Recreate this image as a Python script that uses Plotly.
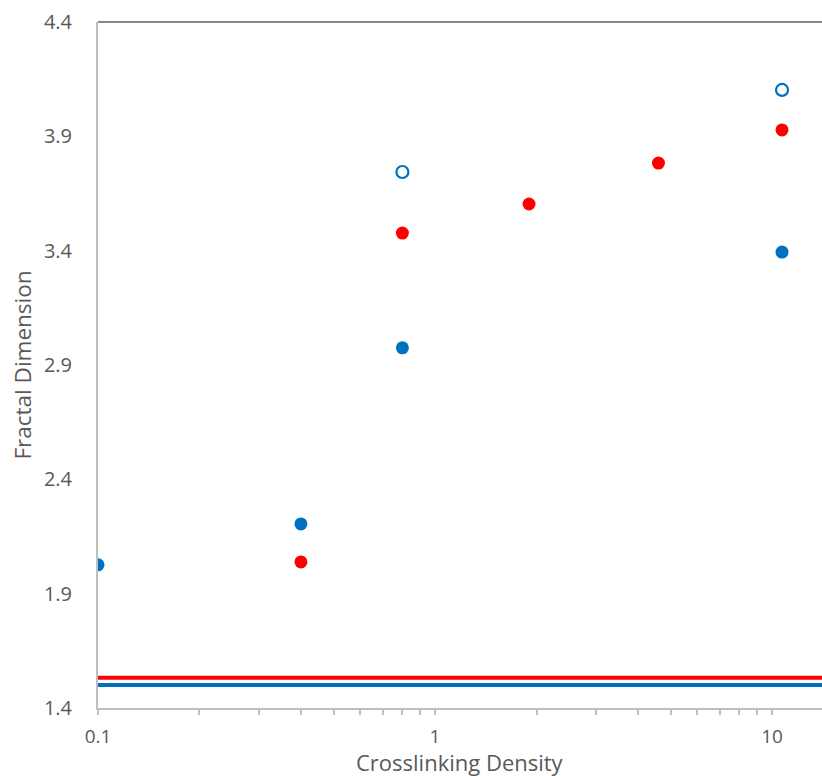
import plotly.graph_objects as go

# Crosslinking density vs fractal dimension
blue_x = [0.1, 0.4, 0.8, 10.7]
blue_y = [2.026, 2.205, 2.975, 3.394]
blue_open_x = [0.8, 10.7]
blue_open_y = [3.744, 4.103]
red_x = [0.4, 0.8, 1.9, 4.6, 10.7]
red_y = [2.039, 3.477, 3.604, 3.783, 3.928]
# horizontal reference levels
red_level = 1.532
blue_level = 1.501

x_ticks = [0.1, 1, 10]
x_tick_text = ["0.1", "1", "10"]
x_minor = [0.2, 0.3, 0.4, 0.5, 0.6, 0.7, 0.8, 0.9,
           2, 3, 4, 5, 6, 7, 8, 9]
y_ticks = [1.4, 1.9, 2.4, 2.9, 3.4, 3.9, 4.4]
y_tick_text = ["1.4", "1.9", "2.4", "2.9", "3.4", "3.9", "4.4"]

BLUE = "#0070C0"
RED = "#FF0000"
FONT = "Open Sans"
TXT = "#595959"

x_lo, x_hi = 0.1, 14.06

fig = go.Figure()
fig.add_trace(go.Scatter(x=[x_lo, x_hi], y=[red_level, red_level], mode="lines",
                         line=dict(color=RED, width=4), hoverinfo="skip"))
fig.add_trace(go.Scatter(x=[x_lo, x_hi], y=[blue_level, blue_level], mode="lines",
                         line=dict(color=BLUE, width=4), hoverinfo="skip"))
fig.add_trace(go.Scatter(x=blue_x, y=blue_y, mode="markers",
                         marker=dict(color=BLUE, size=13)))
fig.add_trace(go.Scatter(x=blue_open_x, y=blue_open_y, mode="markers",
                         marker=dict(color="white", size=12, line=dict(color=BLUE, width=2.2))))
fig.add_trace(go.Scatter(x=red_x, y=red_y, mode="markers",
                         marker=dict(color=RED, size=13)))

fig.update_layout(
    width=822, height=776,
    margin=dict(l=98, r=0, t=22, b=68),
    paper_bgcolor="white", plot_bgcolor="white",
    showlegend=False,
    font=dict(family=FONT, color=TXT, size=18),
    shapes=[dict(type="line", xref="paper", yref="paper", x0=0, x1=1, y0=1, y1=1,
                 line=dict(color="#878787", width=2))],
    annotations=[dict(text="Crosslinking Density", xref="paper", yref="paper",
                      x=0.5, y=0, xanchor="center", yanchor="bottom",
                      yshift=-70.5, showarrow=False,
                      font=dict(size=22, color=TXT, family=FONT))],
)
fig.update_xaxes(
    type="log", range=[-1, 1.148],
    tickmode="array", tickvals=x_ticks, ticktext=x_tick_text,
    ticks="outside", ticklen=5, tickcolor="#BFBFBF", tickwidth=2,
    minor=dict(tickmode="array", tickvals=x_minor, ticks="outside", ticklen=5,
               tickcolor="#BFBFBF", tickwidth=1.5, showgrid=False),
    showline=True, linecolor="#BFBFBF", linewidth=2,
    showgrid=False, zeroline=False,
    ticklabelstandoff=5,
    tickfont=dict(size=19, color=TXT, family=FONT),
)
fig.update_yaxes(
    range=[1.4, 4.4],
    tickmode="array", tickvals=y_ticks, ticktext=y_tick_text,
    ticks="", showline=True, linecolor="#BFBFBF", linewidth=2,
    showgrid=False, zeroline=False,
    ticklabelstandoff=20,
    tickfont=dict(size=20, color=TXT, family=FONT),
    title=dict(text="Fractal Dimension", font=dict(size=22.5, color=TXT, family=FONT),
               standoff=6),
)

fig.write_html("out.html")
